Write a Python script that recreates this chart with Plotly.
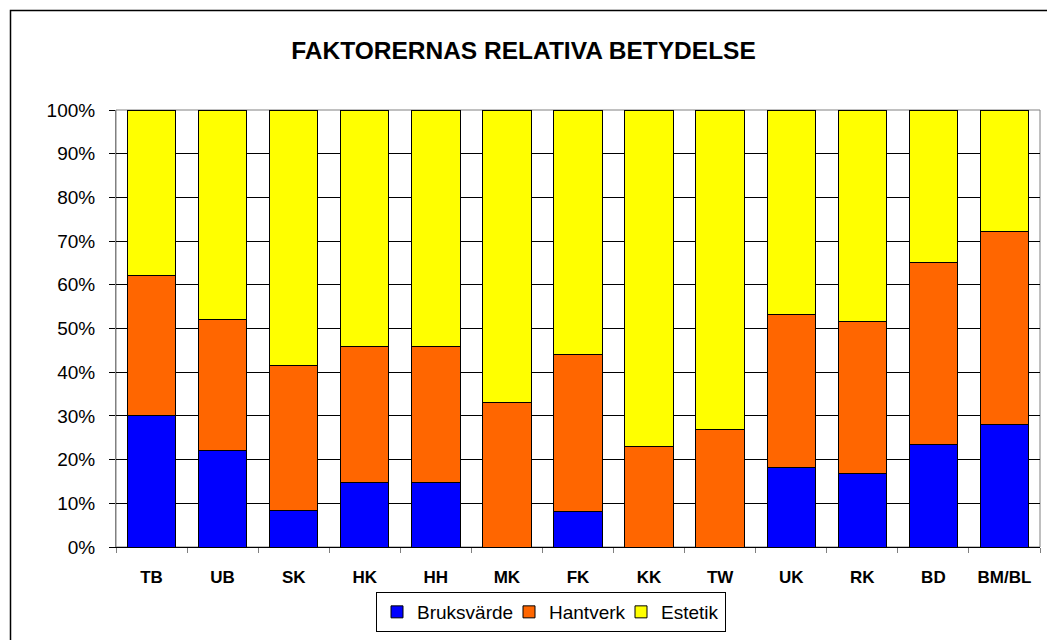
import plotly.graph_objects as go

categories = ["TB", "UB", "SK", "HK", "HH", "MK", "FK", "KK", "TW", "UK", "RK", "BD", "BM/BL"]
bruksvarde = [30.0, 22.0, 8.4, 14.8, 14.8, 0.0, 8.1, 0.0, 0.0, 18.3, 16.9, 23.4, 28.0]
hantverk = [32.2, 30.0, 33.1, 31.0, 31.0, 33.0, 35.9, 23.0, 26.8, 34.9, 34.6, 41.6, 44.1]
estetik = [37.8, 48.0, 58.5, 54.2, 54.2, 67.0, 56.0, 77.0, 73.2, 46.8, 48.5, 35.0, 27.9]
y_ticks = [0, 10, 20, 30, 40, 50, 60, 70, 80, 90, 100]
y_tick_labels = [f"{v}%" for v in y_ticks]

series = [
    ("Bruksvärde", bruksvarde, "#0000FF", 87),
    ("Hantverk", hantverk, "#FF6600", 67),
    ("Estetik", estetik, "#FFFF00", 59),
]

fig = go.Figure()
for name, vals, col, lw in series:
    fig.add_trace(go.Bar(
        x=categories, y=vals, name=name, legendwidth=lw,
        marker=dict(color=col, line=dict(color="black", width=1)),
    ))

W, H = 1047, 640
L, R, T, B = 116, 7, 110, 93
pw, ph = W - L - R, H - T - B

def px_x(p):
    return (p - L) / pw

def px_y(p):
    return (H - B - p) / ph

font = "Liberation Sans, Arial, sans-serif"

fig.update_layout(
    width=W, height=H,
    barmode="stack", bargap=0.32,
    margin=dict(l=L, r=R, t=T, b=B, autoexpand=False),
    paper_bgcolor="white", plot_bgcolor="white",
    font=dict(family=font, size=19, color="black"),
    title=dict(text="<b>FAKTORERNAS RELATIVA BETYDELSE</b>",
               x=0.5, xref="container", xanchor="center",
               y=1 - 50 / H, yref="container", yanchor="middle",
               font=dict(family=font, size=24.5, color="black")),
    legend=dict(orientation="h", x=px_x(551), y=px_y(612),
                xanchor="center", yanchor="middle",
                bordercolor="black", borderwidth=1, bgcolor="white",
                font=dict(family=font, size=19, color="black"),
                traceorder="normal", itemwidth=30),
    showlegend=True,
    xaxis=dict(
        type="category", tickson="boundaries", ticks="outside", ticklen=5,
        tickcolor="#808080", showgrid=False, showline=True, linecolor="black",
        linewidth=1, tickfont=dict(family=font, size=17, color="black"),
        ticklabelstandoff=15, fixedrange=True,
        tickvals=categories, ticktext=[f"<b>{c}</b>" for c in categories],
    ),
    yaxis=dict(
        range=[0, 100], tickvals=y_ticks, ticktext=y_tick_labels,
        ticks="outside", ticklen=6, tickcolor="black",
        showgrid=True, gridcolor="black", gridwidth=1,
        showline=True, linecolor="#808080", linewidth=1,
        zeroline=False, ticklabelstandoff=10,
        tickfont=dict(family=font, size=19, color="black"), fixedrange=True,
    ),
    shapes=[
        dict(type="rect", xref="paper", yref="paper", x0=0, x1=1, y0=0, y1=1,
             line=dict(color="#808080", width=1), layer="below"),
        dict(type="rect", xref="paper", yref="paper",
             x0=px_x(10.5), x1=px_x(1070), y0=px_y(670), y1=px_y(10.5),
             line=dict(color="black", width=1.5), fillcolor="rgba(0,0,0,0)"),
    ],
)

fig.write_html("out.html", config={"displayModeBar": False},
               post_script="document.body.style.margin='0';")
